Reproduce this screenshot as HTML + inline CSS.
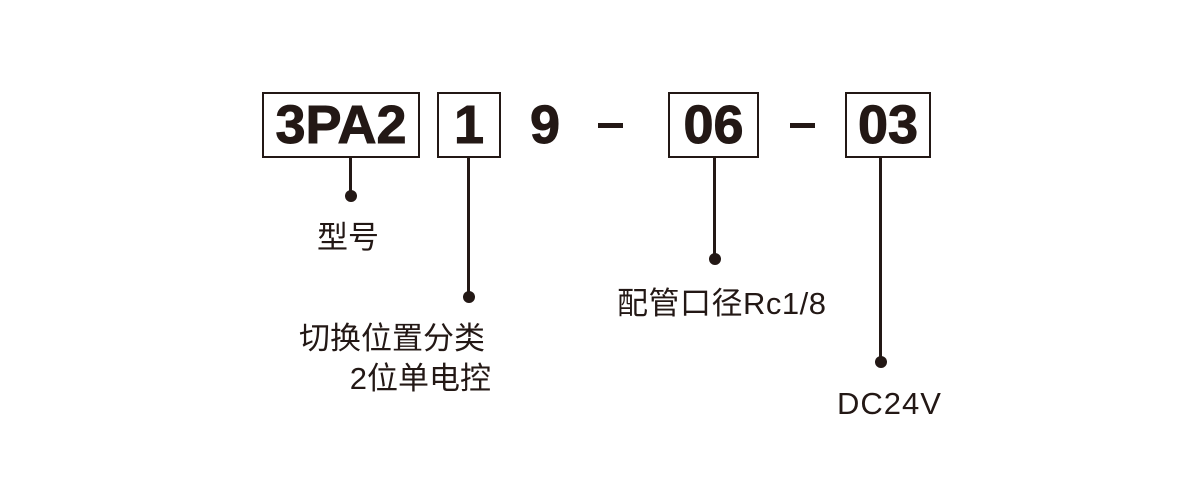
<!DOCTYPE html>
<html><head><meta charset="utf-8"><style>
body{margin:0;width:1200px;height:500px;background:#fff;position:relative;overflow:hidden;font-family:"Liberation Sans","Noto Sans CJK SC",sans-serif;color:#231815}
.b{position:absolute;border:2px solid #231815;box-sizing:border-box;background:#fff}
.t{position:absolute;font-weight:bold;font-size:54px;line-height:54px;text-align:center;-webkit-text-stroke:1px #231815}
.l{position:absolute;width:3px;background:#231815}
.d{position:absolute;width:12px;height:12px;border-radius:50%;background:#231815}
.c{position:absolute;font-size:31px;line-height:34px;white-space:nowrap}
</style></head><body>
<div class="b" style="left:262px;top:92px;width:158px;height:66px"></div>
<div class="t" style="left:262px;top:98px;width:158px">3PA2</div>
<div class="b" style="left:437px;top:92px;width:64px;height:66px"></div>
<div class="t" style="left:437px;top:98px;width:64px">1</div>
<div class="t" style="left:525px;top:98px;width:40px">9</div>
<div style="position:absolute;left:598px;top:123px;width:25px;height:5px;background:#231815"></div>
<div class="b" style="left:668px;top:92px;width:91px;height:66px"></div>
<div class="t" style="left:668px;top:98px;width:91px">06</div>
<div style="position:absolute;left:790px;top:123px;width:25px;height:5px;background:#231815"></div>
<div class="b" style="left:845px;top:92px;width:86px;height:66px"></div>
<div class="t" style="left:845px;top:98px;width:86px">03</div>

<div class="l" style="left:349px;top:158px;height:38px"></div><div class="d" style="left:345px;top:190px"></div>
<div class="l" style="left:467px;top:158px;height:140px"></div><div class="d" style="left:463px;top:291px"></div>
<div class="l" style="left:713px;top:158px;height:102px"></div><div class="d" style="left:709px;top:253px"></div>
<div class="l" style="left:879px;top:158px;height:205px"></div><div class="d" style="left:875px;top:356px"></div>

<div class="c" style="left:317px;top:221px">型号</div>
<div class="c" style="left:299px;top:322px">切换位置分类</div>
<div class="c" style="left:300px;top:362px;width:191px;text-align:right">2位单电控</div>
<div class="c" style="left:617px;top:287px;letter-spacing:0.5px">配管口径Rc1/8</div>
<div class="c" style="left:837px;top:387px;letter-spacing:1px">DC24V</div>
</body></html>
